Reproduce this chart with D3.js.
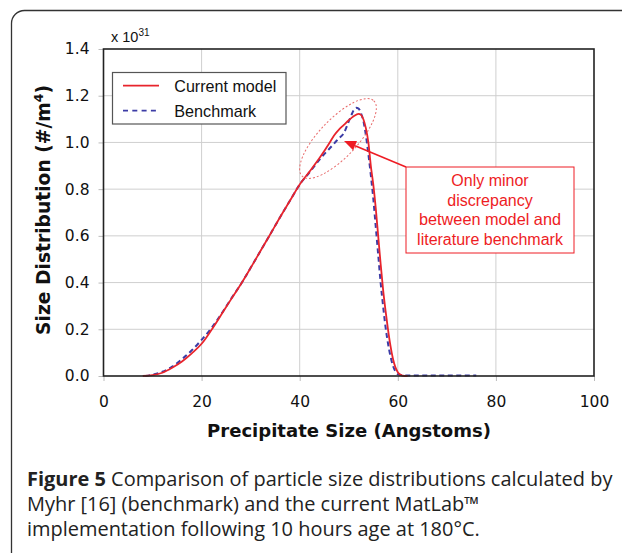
<!DOCTYPE html>
<html><head><meta charset="utf-8">
<script src="https://cdn.jsdelivr.net/npm/d3@7"></script>
<style>html,body{margin:0;padding:0;background:#fff;}svg{display:block;}</style>
</head><body>
<svg id="c" width="622" height="553"></svg>
<script>
// ---- data (values in units of 1e31 #/m^4) ----
const modelX = [8,10,12,14,16,18,20,22,24,26,28,30,32,34,36,38,40,42,44,46,47,48,49,50,51,52,52.5,53,53.5,54,54.5,55,55.5,56,56.5,57,57.5,58,58.5,59,59.5,60,60.5,61,62];
const modelY = [0,0.004,0.014,0.035,0.062,0.097,0.138,0.197,0.262,0.328,0.393,0.463,0.535,0.607,0.68,0.75,0.82,0.875,0.932,0.995,1.03,1.055,1.075,1.095,1.112,1.122,1.118,1.098,1.06,1.0,0.9,0.82,0.72,0.6,0.48,0.37,0.28,0.2,0.13,0.075,0.038,0.016,0.006,0.001,0];
const benchX = [8.5,10,12,14,16,18,20,22,24,26,28,30,32,34,36,38,40,42,44,45,46,47,48,49,50,50.5,51,51.5,52,52.5,53,53.5,54,54.5,55,55.5,56,56.5,57,57.5,58,58.5,59,59.5,60,61,62,66,70,76];
const benchY = [0,0.006,0.018,0.04,0.072,0.11,0.155,0.205,0.265,0.33,0.393,0.463,0.535,0.607,0.68,0.75,0.82,0.872,0.925,0.95,0.972,0.995,1.018,1.04,1.09,1.115,1.138,1.148,1.145,1.125,1.09,1.03,0.95,0.86,0.76,0.64,0.52,0.4,0.3,0.21,0.14,0.085,0.045,0.02,0.008,0.003,0.002,0.002,0.002,0.002];
const xTicks = [0,20,40,60,80,100];
const yTicks = [0,0.2,0.4,0.6,0.8,1.0,1.2,1.4];
const seriesNames = ["Current model","Benchmark"];
const noteLines = ["Only minor","discrepancy","between model and","literature benchmark"];
const captionLines = [
  ["Figure 5", " Comparison of particle size distributions calculated by"],
  ["", "Myhr [16] (benchmark) and the current MatLab\u2122"],
  ["", "implementation following 10 hours age at 180\u00b0C."]
];

const svg = d3.select("#c");
const RED = "#e8242c", BLUE = "#3c3ca6", NOTE = "#ee1c24";

function fit(sel, target){
  const n = sel.node(); let fs = parseFloat(sel.attr("font-size"));
  const w = n.getComputedTextLength();
  if (w > 0) sel.attr("font-size", (fs*target/w).toFixed(2));
  return sel;
}

// outer frame
svg.append("rect").attr("x",11.5).attr("y",10.5).attr("width",660).attr("height",600)
  .attr("rx",13).attr("fill","none").attr("stroke","#333").attr("stroke-width",1.3);

const L=103.5, R=594, T=49, B=376;
const x = d3.scaleLinear().domain([0,100]).range([L,R]);
const y = d3.scaleLinear().domain([0,1.4]).range([B,T]);

// grid
const g = svg.append("g");
g.selectAll(".gx").data(xTicks.slice(1,-1)).join("line")
  .attr("x1",d=>x(d)).attr("x2",d=>x(d)).attr("y1",T).attr("y2",B)
  .attr("stroke","#cfcfcf").attr("stroke-width",1);
g.selectAll(".gy").data(yTicks.slice(1,-1)).join("line")
  .attr("y1",d=>y(d)).attr("y2",d=>y(d)).attr("x1",L).attr("x2",R)
  .attr("stroke","#cfcfcf").attr("stroke-width",1);

// axes (ticks + labels)
const xa = svg.append("g").attr("transform",`translate(0,${B})`)
  .call(d3.axisBottom(x).tickValues(xTicks).tickSize(5).tickPadding(15).tickFormat(d3.format("d")));
const ya = svg.append("g").attr("transform",`translate(${L},0)`)
  .call(d3.axisLeft(y).tickValues(yTicks).tickSize(5).tickPadding(9).tickFormat(d3.format(".1f")));
[xa,ya].forEach(a=>{
  a.select(".domain").remove();
  a.selectAll(".tick line").attr("stroke","#bbb");
  a.selectAll("text").attr("font-family","DejaVu Sans").attr("font-size",15.5).attr("fill","#111");
});

// lines
const line = d3.line().x(d=>x(d[0])).y(d=>y(d[1])).curve(d3.curveMonotoneX);
svg.append("path").datum(benchX.map((v,i)=>[v,benchY[i]])).attr("d",line)
  .attr("fill","none").attr("stroke",BLUE).attr("stroke-width",2).attr("stroke-dasharray","5,3.5");
svg.append("path").datum(modelX.map((v,i)=>[v,modelY[i]])).attr("d",line)
  .attr("fill","none").attr("stroke",RED).attr("stroke-width",1.8);

// plot frame
svg.append("rect").attr("x",L).attr("y",T).attr("width",R-L).attr("height",B-T)
  .attr("fill","none").attr("stroke","#222").attr("stroke-width",1.6);

// exponent label
const ex = svg.append("text").attr("x",111).attr("y",41.5).attr("font-family","Liberation Sans")
  .attr("font-size",14.5).attr("fill","#111");
ex.append("tspan").text("x 10");
ex.append("tspan").attr("font-size",10).attr("dy",-6).text("31");

// legend
const lg = svg.append("g");
lg.append("rect").attr("x",112.5).attr("y",72.5).attr("width",173.5).attr("height",51.5)
  .attr("fill","#fff").attr("stroke","#555").attr("stroke-width",1.2);
lg.append("line").attr("x1",123).attr("x2",159).attr("y1",85.7).attr("y2",85.7)
  .attr("stroke",RED).attr("stroke-width",1.8);
lg.append("line").attr("x1",123).attr("x2",160).attr("y1",110.7).attr("y2",110.7)
  .attr("stroke",BLUE).attr("stroke-width",1.8).attr("stroke-dasharray","5,4.3");
fit(lg.append("text").attr("x",174.3).attr("y",91.5).attr("font-family","Liberation Sans")
  .attr("font-size",16).attr("fill","#111").text(seriesNames[0]),102);
fit(lg.append("text").attr("x",174.3).attr("y",116.6).attr("font-family","Liberation Sans")
  .attr("font-size",16).attr("fill","#111").text(seriesNames[1]),82);

// annotation: ellipse
svg.append("ellipse").attr("cx",0).attr("cy",0).attr("rx",52).attr("ry",19)
  .attr("transform","translate(338,138.5) rotate(-46.5)")
  .attr("fill","none").attr("stroke","#e86a6a").attr("stroke-width",1).attr("stroke-dasharray","2,2");

// annotation box + text
svg.append("rect").attr("x",406).attr("y",167).attr("width",168).attr("height",86)
  .attr("fill","#fff").attr("stroke",NOTE).attr("stroke-width",1);
const nb = [186,205.5,225.3,245];
noteLines.forEach((t,i)=>{
  const s = svg.append("text").attr("x",490).attr("y",nb[i]).attr("text-anchor","middle")
    .attr("font-family","Liberation Sans").attr("font-size",16).attr("fill",NOTE).text(t);
  if (i===2) fit(s,142);
});
// arrow
const ax1=406, ay1=167, ax2=344, ay2=141;
const ang = Math.atan2(ay2-ay1, ax2-ax1);
const hl=12, hw=5;
const bx = ax2 - hl*Math.cos(ang), by = ay2 - hl*Math.sin(ang);
svg.append("line").attr("x1",ax1).attr("y1",ay1).attr("x2",bx).attr("y2",by)
  .attr("stroke",NOTE).attr("stroke-width",1.6);
svg.append("path").attr("d",`M${ax2},${ay2}L${bx+hw*Math.sin(ang)},${by-hw*Math.cos(ang)}L${bx-hw*Math.sin(ang)},${by+hw*Math.cos(ang)}Z`)
  .attr("fill",NOTE);

// axis titles
fit(svg.append("text").attr("x",349).attr("y",437).attr("text-anchor","middle")
  .attr("font-family","DejaVu Sans").attr("font-weight","bold").attr("font-size",18).attr("fill","#111")
  .text("Precipitate Size (Angstoms)"),284);
const yt = svg.append("text").attr("transform","translate(50,210) rotate(-90)").attr("text-anchor","middle")
  .attr("font-family","DejaVu Sans").attr("font-weight","bold").attr("font-size",18).attr("fill","#111");
yt.append("tspan").text("Size Distribution (#/m");
yt.append("tspan").attr("font-size",12).attr("dy",-7).text("4");
yt.append("tspan").attr("dy",7).text(")");
{
  const w = yt.node().getComputedTextLength();
  const k = 250/w;
  yt.attr("font-size",18*k);
  yt.selectAll("tspan").filter((d,i)=>i===1).attr("font-size",12*k);
}

// caption
const cb = [486,511,536];
captionLines.forEach((parts,i)=>{
  const t = svg.append("text").attr("x",27).attr("y",cb[i]).attr("font-family","Open Sans")
    .attr("font-size",18).attr("fill","#222");
  if (parts[0]) t.append("tspan").attr("font-weight","bold").text(parts[0]);
  t.append("tspan").text(parts[1]);
  if (i===0) fit(t,586);
  if (i>0) t.attr("font-size", svg.select("text[y='486']").attr("font-size"));
});
</script>
</body></html>
